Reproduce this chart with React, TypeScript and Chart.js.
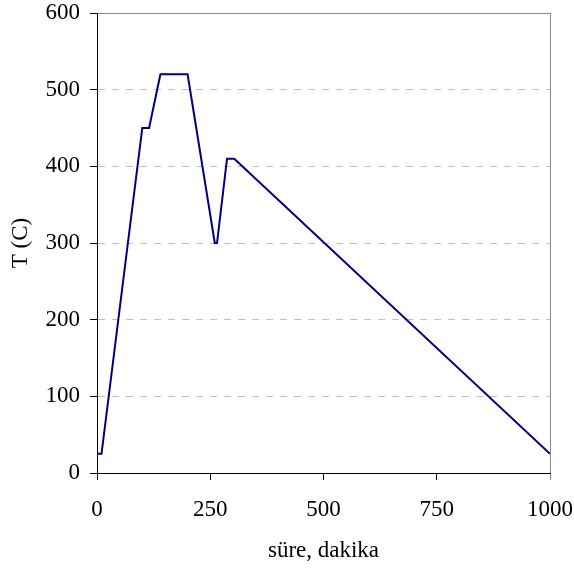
import React, { useEffect, useRef } from "react";
import { Chart, registerables } from "chart.js";

Chart.register(...registerables);

const timeMinutes = [0, 10, 100, 115, 140, 200, 260, 265, 287, 303, 1000];
const temperatureC = [25, 25, 450, 450, 520, 520, 300, 300, 410, 410, 25];
const xTicks = [0, 250, 500, 750, 1000];
const yTicks = [0, 100, 200, 300, 400, 500, 600];
const xTitle = "süre, dakika";
const yTitle = "T (C)";

const FONT = "'Liberation Serif', 'Times New Roman', serif";

export default function App() {
  const ref = useRef<HTMLCanvasElement | null>(null);
  useEffect(() => {
    if (!ref.current) return;
    const chart = new Chart(ref.current, {
      type: "line",
      data: {
        datasets: [
          {
            data: timeMinutes.map((x, i) => ({ x, y: temperatureC[i] })),
            borderColor: "#000080",
            borderWidth: 2,
            pointRadius: 0,
            tension: 0,
            fill: false,
          },
        ],
      },
      options: {
        animation: false,
        responsive: false,
        layout: { padding: { top: 13, right: 24, bottom: 0, left: 0 } },
        plugins: { legend: { display: false }, tooltip: { enabled: false } },
        scales: {
          x: {
            type: "linear",
            min: 0,
            max: 1000,
            afterBuildTicks: (s: any) => {
              s.ticks = xTicks.map((v) => ({ value: v }));
            },
            afterFit: (s: any) => {
              s.height = 97;
              s.paddingLeft = 0;
              s.paddingRight = 0;
            },
            ticks: {
              color: "#000",
              font: { family: FONT, size: 23 },
              padding: 16,
              maxRotation: 0,
              callback: (v: any) => String(v),
            },
            grid: {
              color: (c: any) => (c.tick && c.tick.value === 1000 ? "#888888" : "rgba(0,0,0,0)"),
              lineWidth: 1,
              tickLength: 7,
              tickColor: (c: any) => (c.tick && c.tick.value === 1000 ? "#888888" : "#000"),
              tickBorderDash: [],
            },
            border: { color: "#000", width: 1 },
            title: {
              display: true,
              text: xTitle,
              color: "#000",
              font: { family: FONT, size: 23 },
              padding: { top: 0, bottom: 5 },
            },
          },
          y: {
            type: "linear",
            min: 0,
            max: 600,
            afterBuildTicks: (s: any) => {
              s.ticks = yTicks.map((v) => ({ value: v }));
            },
            afterFit: (s: any) => {
              s.width = 97;
              s.paddingTop = 0;
              s.paddingBottom = 0;
            },
            ticks: {
              color: "#000",
              font: { family: FONT, size: 23 },
              padding: 10,
              callback: (v: any) => String(v),
            },
            grid: {
              color: (c: any) => {
                const v = c.tick ? c.tick.value : -1;
                if (v === 0) return "rgba(0,0,0,0)";
                if (v === 600) return "#888888";
                return "#c0c0c0";
              },
              lineWidth: 1,
              tickLength: 7,
              tickColor: "#000",
              tickBorderDash: [],
            },
            border: {
              color: "#000",
              width: 1,
              dash: (c: any) => (c.tick && c.tick.value === 600 ? [] : [7, 7]),
            },
            title: {
              display: true,
              text: yTitle,
              color: "#000",
              font: { family: FONT, size: 23 },
              padding: { top: 7, bottom: 0 },
            },
          },
        },
      },
    });
    return () => chart.destroy();
  }, []);
  return (
    <div style={{ position: "fixed", left: 0, top: 0, width: 574, height: 570, background: "#fff" }}>
      <canvas ref={ref} width={574} height={570} style={{ display: "block", width: 574, height: 570 }} />
    </div>
  );
}
